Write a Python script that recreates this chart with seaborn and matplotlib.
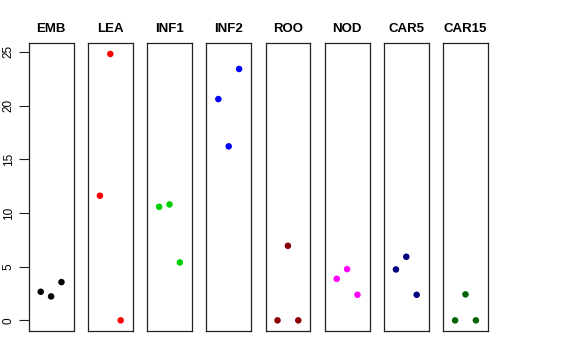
import matplotlib
matplotlib.use("Agg")
import matplotlib.pyplot as plt
import pandas as pd
import seaborn as sns

sns.set_style("white")
plt.rcParams["font.family"] = ["Liberation Sans", "DejaVu Sans"]

tissues = ["EMB", "LEA", "INF1", "INF2", "ROO", "NOD", "CAR5", "CAR15"]
colors = ["black", "red", "#00CD00", "blue", "#8B0000", "magenta", "#000080", "#006400"]
rep = [1, 2, 3]

emb = [2.66, 2.23, 3.56]
lea = [11.6, 24.8, 0.0]
inf1 = [10.57, 10.79, 5.39]
inf2 = [20.6, 16.2, 23.4]
roo = [0.0, 6.94, 0.0]
nod = [3.87, 4.77, 2.38]
car5 = [4.74, 5.92, 2.38]
car15 = [0.0, 2.42, 0.0]

values = [emb, lea, inf1, inf2, roo, nod, car5, car15]

W, H = 576, 360
fig = plt.figure(figsize=(W / 100, H / 100), dpi=100)

left0 = 28.7
period = 59.2
pw = 44.8
top = 43.3
bottom = 331.0

for i, (name, vals, col) in enumerate(zip(tissues, values, colors)):
    x0 = left0 + i * period
    ax = fig.add_axes([x0 / W, 1 - bottom / H, pw / W, (bottom - top) / H])
    df = pd.DataFrame({"rep": rep, "value": vals})
    sns.scatterplot(data=df, x="rep", y="value", color=col, s=22,
                    edgecolor="none", ax=ax, legend=False)
    ax.set_xlim(-0.16, 4.16)
    ax.set_ylim(-0.99, 25.79)
    ax.set_xticks([])
    ax.set_xlabel("")
    ax.set_ylabel("")
    for sp in ax.spines.values():
        sp.set_visible(True)
        sp.set_color("#222222")
        sp.set_linewidth(0.9)
    ax.set_title(name, fontsize=9.5, fontweight="bold", pad=8, color="black")
    if i == 0:
        ax.set_yticks([0, 5, 10, 15, 20, 25])
        ax.tick_params(axis="y", length=7, width=0.8, color="#222222",
                       labelsize=8.5, labelcolor="black", pad=3, left=True)
        for lab in ax.get_yticklabels():
            lab.set_rotation(90)
            lab.set_va("center")
    else:
        ax.set_yticks([])

fig.savefig("out.png", dpi=100)
